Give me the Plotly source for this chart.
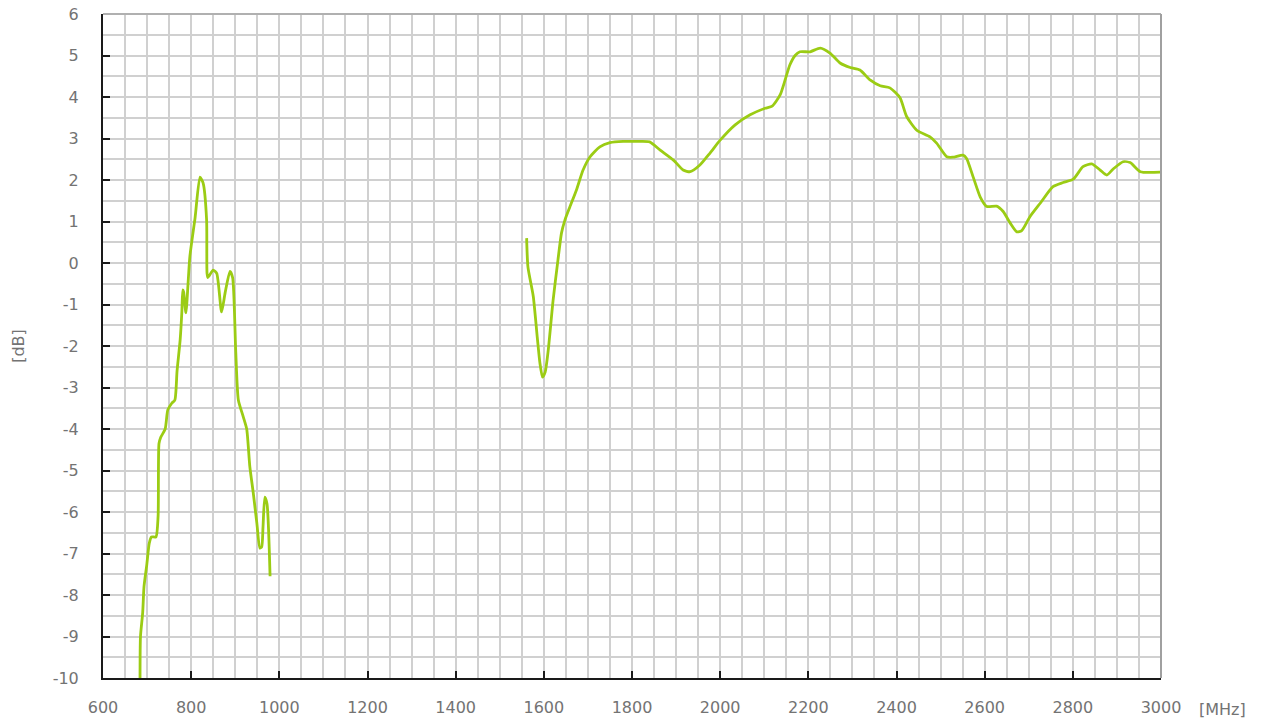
import plotly.graph_objects as go

# Band 1 (low band)
freq_low = [684, 685, 690, 693, 699, 705, 710, 720, 725, 727, 731, 741, 747, 756, 763,
            768, 775, 779, 781, 783, 788, 797, 809, 820, 827, 835, 836, 838, 850, 858,
            869, 877, 888, 894, 901, 907, 918, 926, 933, 941, 949, 956, 960, 963, 967,
            972, 979]
gain_low = [-10.0, -9.0, -8.43, -7.8, -7.3, -6.75, -6.6, -6.6, -6.1, -4.35, -4.2, -4.0, -3.54, -3.38, -3.3,
            -2.6, -1.85, -1.15, -0.65, -0.7, -1.2, 0.15, 1.1, 2.07, 1.93, 1.04, -0.25, -0.35, -0.17, -0.25,
            -1.18, -0.72, -0.2, -0.35, -2.1, -3.3, -3.7, -4.0, -4.9, -5.55, -6.27, -6.87, -6.84, -6.36, -5.64,
            -5.8, -7.55]

# Band 2 (high band)
freq_high = [1561, 1564, 1576, 1585, 1591, 1597, 1603, 1610, 1621, 1632, 1640, 1648, 1659, 1674, 1689,
             1705, 1727, 1750, 1780, 1810, 1840, 1864, 1894, 1916, 1932, 1954, 1977, 2000, 2034, 2068,
             2102, 2118, 2136, 2147, 2158, 2170, 2181, 2204, 2227, 2249, 2272, 2295, 2317, 2340, 2363,
             2385, 2408, 2423, 2446, 2476, 2491, 2514, 2528, 2551, 2559, 2574, 2590, 2605, 2627, 2642,
             2658, 2673, 2684, 2703, 2726, 2755, 2778, 2801, 2823, 2843, 2862, 2877, 2891, 2914, 2930,
             2953, 2998]
gain_high = [0.6, -0.1, -0.8, -1.78, -2.4, -2.75, -2.63, -2.1, -0.9, 0.07, 0.72, 1.04, 1.35, 1.76, 2.24,
             2.56, 2.8, 2.9, 2.93, 2.93, 2.92, 2.72, 2.48, 2.24, 2.2, 2.36, 2.65, 2.96, 3.33, 3.57,
             3.73, 3.78, 4.05, 4.4, 4.77, 5.0, 5.09, 5.09, 5.18, 5.06, 4.82, 4.71, 4.65, 4.41, 4.27,
             4.22, 3.98, 3.53, 3.2, 3.04, 2.89, 2.56, 2.55, 2.6, 2.52, 2.07, 1.59, 1.36, 1.37, 1.24,
             0.96, 0.75, 0.78, 1.12, 1.44, 1.84, 1.94, 2.02, 2.32, 2.39, 2.24, 2.12, 2.26, 2.44, 2.42,
             2.2, 2.19]

x_ticks = [600, 800, 1000, 1200, 1400, 1600, 1800, 2000, 2200, 2400, 2600, 2800, 3000]
y_ticks = list(range(-10, 7))

LINE = "#9bcc14"
GRID = "#d0d0d0"
FONT = dict(family="DejaVu Sans, Roboto", size=16, color="#737373")

fig = go.Figure()
for fx, gy in [(freq_low, gain_low), (freq_high, gain_high)]:
    fig.add_trace(go.Scatter(x=fx, y=gy, mode="lines",
                             line=dict(color=LINE, width=2.8, shape="spline", smoothing=0.6),
                             showlegend=False, hoverinfo="x+y"))

fig.update_layout(
    width=1269, height=724,
    margin=dict(l=103, r=108, t=14, b=46),
    paper_bgcolor="white", plot_bgcolor="white",
    font=FONT,
)
fig.update_xaxes(range=[600, 3000], tickvals=x_ticks, ticktext=[str(v) for v in x_ticks],
                 showgrid=True, gridcolor=GRID, gridwidth=2,
                 minor=dict(dtick=50, tick0=600, showgrid=True, gridcolor=GRID, gridwidth=2, ticks=""),
                 showline=True, linecolor="#1a1a1a", linewidth=2,
                 ticks="inside", ticklen=7, tickwidth=2, tickcolor="#1a1a1a",
                 ticklabelstandoff=14, automargin=False, ticklabeloverflow="allow",
                 zeroline=False, tickfont=FONT)
fig.update_yaxes(range=[-10, 6], tickvals=y_ticks, ticktext=[str(v) for v in y_ticks],
                 showgrid=True, gridcolor=GRID, gridwidth=2,
                 minor=dict(dtick=0.5, tick0=0, showgrid=True, gridcolor=GRID, gridwidth=2, ticks=""),
                 showline=True, linecolor="#1a1a1a", linewidth=2,
                 ticks="inside", ticklen=7, tickwidth=2, tickcolor="#1a1a1a",
                 ticklabelstandoff=19, automargin=False, ticklabeloverflow="allow",
                 zeroline=False, tickfont=FONT,
                 title=dict(text="[dB]", font=FONT, standoff=24))

# top and right border
fig.add_shape(type="line", xref="paper", yref="paper", x0=0, x1=1, y0=1, y1=1,
              line=dict(color="#b0b0b0", width=2))
fig.add_shape(type="line", xref="paper", yref="paper", x0=1, x1=1, y0=0, y1=1,
              line=dict(color="#a0a0a0", width=2))

fig.add_annotation(text="[MHz]", xref="paper", yref="paper", x=1.034, y=0, yshift=-31,
                   xanchor="left", yanchor="middle", showarrow=False, font=FONT)

fig.write_html("out.html", config={"displayModeBar": False},
               post_script="document.body.style.margin='0';")
